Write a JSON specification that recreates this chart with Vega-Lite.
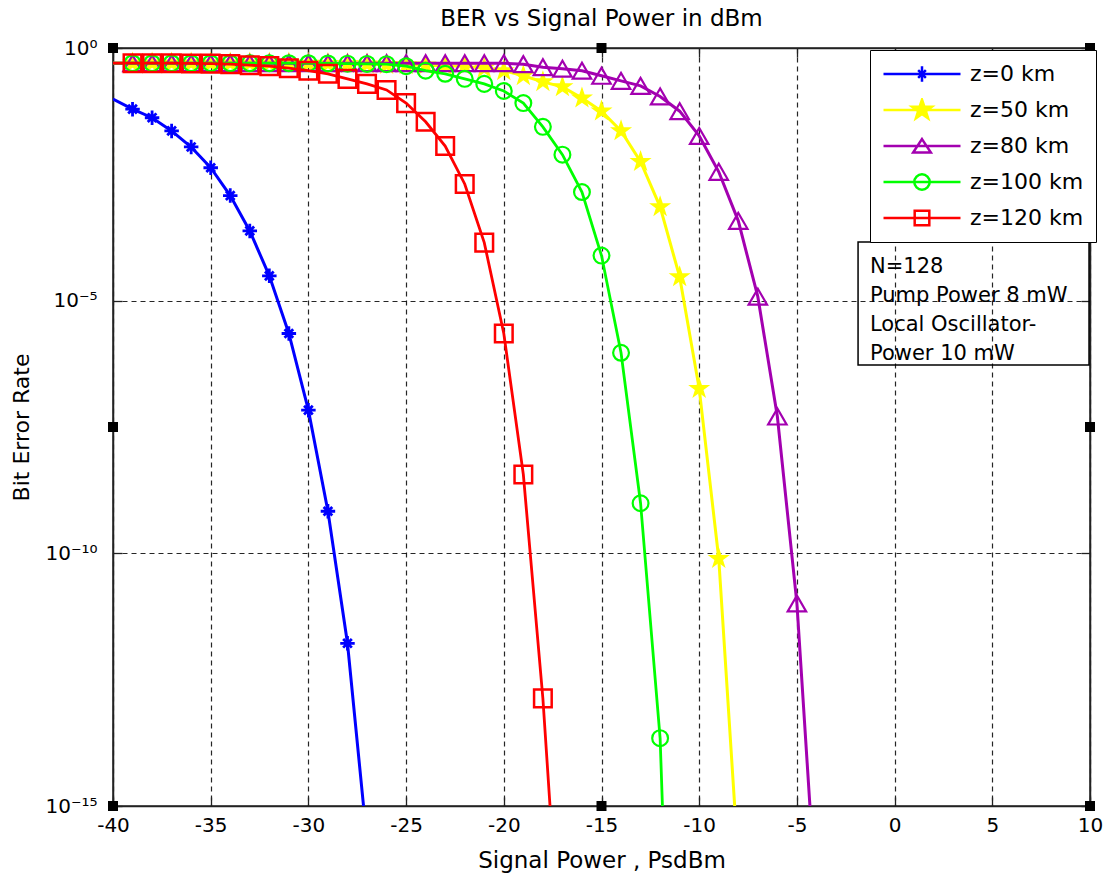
{
  "$schema": "https://vega.github.io/schema/vega-lite/v6.json",
  "width": 977,
  "height": 758,
  "autosize": {"type": "none"},
  "padding": {"left": 113, "top": 48, "right": 21, "bottom": 73},
  "background": "white",
  "config": {"view": {"stroke": "#222", "strokeWidth": 1.5}, "font": "DejaVu Sans"},
  "title": {"text": "BER vs Signal Power in dBm", "font": "DejaVu Sans", "fontSize": 23, "fontWeight": "normal", "color": "#000", "offset": 7, "anchor": "middle"},
  "datasets": {
    "ber": [
      {"p": -40, "ber": 0.098, "series": "z=0 km"},
      {"p": -39, "ber": 0.0617, "series": "z=0 km"},
      {"p": -38, "ber": 0.0417, "series": "z=0 km"},
      {"p": -37, "ber": 0.0229, "series": "z=0 km"},
      {"p": -36, "ber": 0.011, "series": "z=0 km"},
      {"p": -35, "ber": 0.00427, "series": "z=0 km"},
      {"p": -34, "ber": 0.0012, "series": "z=0 km"},
      {"p": -33, "ber": 2.4e-4, "series": "z=0 km"},
      {"p": -32, "ber": 3.1e-5, "series": "z=0 km"},
      {"p": -31, "ber": 2.24e-6, "series": "z=0 km"},
      {"p": -30, "ber": 6.8e-8, "series": "z=0 km"},
      {"p": -29, "ber": 6.8e-10, "series": "z=0 km"},
      {"p": -28, "ber": 1.66e-12, "series": "z=0 km"},
      {"p": -27, "ber": 2e-16, "series": "z=0 km"},

      {"p": -40, "ber": 0.5, "series": "z=50 km"},
      {"p": -39, "ber": 0.5, "series": "z=50 km"},
      {"p": -38, "ber": 0.5, "series": "z=50 km"},
      {"p": -37, "ber": 0.5, "series": "z=50 km"},
      {"p": -36, "ber": 0.5, "series": "z=50 km"},
      {"p": -35, "ber": 0.5, "series": "z=50 km"},
      {"p": -34, "ber": 0.5, "series": "z=50 km"},
      {"p": -33, "ber": 0.5, "series": "z=50 km"},
      {"p": -32, "ber": 0.5, "series": "z=50 km"},
      {"p": -31, "ber": 0.5, "series": "z=50 km"},
      {"p": -30, "ber": 0.495, "series": "z=50 km"},
      {"p": -29, "ber": 0.49, "series": "z=50 km"},
      {"p": -28, "ber": 0.484, "series": "z=50 km"},
      {"p": -27, "ber": 0.479, "series": "z=50 km"},
      {"p": -26, "ber": 0.468, "series": "z=50 km"},
      {"p": -25, "ber": 0.462, "series": "z=50 km"},
      {"p": -24, "ber": 0.457, "series": "z=50 km"},
      {"p": -23, "ber": 0.447, "series": "z=50 km"},
      {"p": -22, "ber": 0.437, "series": "z=50 km"},
      {"p": -21, "ber": 0.398, "series": "z=50 km"},
      {"p": -20, "ber": 0.355, "series": "z=50 km"},
      {"p": -19, "ber": 0.282, "series": "z=50 km"},
      {"p": -18, "ber": 0.214, "series": "z=50 km"},
      {"p": -17, "ber": 0.17, "series": "z=50 km"},
      {"p": -16, "ber": 0.102, "series": "z=50 km"},
      {"p": -15, "ber": 0.0562, "series": "z=50 km"},
      {"p": -14, "ber": 0.0229, "series": "z=50 km"},
      {"p": -13, "ber": 0.00562, "series": "z=50 km"},
      {"p": -12, "ber": 7.2e-4, "series": "z=50 km"},
      {"p": -11, "ber": 2.95e-5, "series": "z=50 km"},
      {"p": -10, "ber": 1.82e-7, "series": "z=50 km"},
      {"p": -9, "ber": 7.9e-11, "series": "z=50 km"},
      {"p": -8, "ber": 7.9e-17, "series": "z=50 km"},

      {"p": -40, "ber": 0.5, "series": "z=80 km"},
      {"p": -39, "ber": 0.5, "series": "z=80 km"},
      {"p": -38, "ber": 0.5, "series": "z=80 km"},
      {"p": -37, "ber": 0.5, "series": "z=80 km"},
      {"p": -36, "ber": 0.5, "series": "z=80 km"},
      {"p": -35, "ber": 0.5, "series": "z=80 km"},
      {"p": -34, "ber": 0.5, "series": "z=80 km"},
      {"p": -33, "ber": 0.5, "series": "z=80 km"},
      {"p": -32, "ber": 0.5, "series": "z=80 km"},
      {"p": -31, "ber": 0.5, "series": "z=80 km"},
      {"p": -30, "ber": 0.5, "series": "z=80 km"},
      {"p": -29, "ber": 0.5, "series": "z=80 km"},
      {"p": -28, "ber": 0.5, "series": "z=80 km"},
      {"p": -27, "ber": 0.5, "series": "z=80 km"},
      {"p": -26, "ber": 0.5, "series": "z=80 km"},
      {"p": -25, "ber": 0.5, "series": "z=80 km"},
      {"p": -24, "ber": 0.5, "series": "z=80 km"},
      {"p": -23, "ber": 0.5, "series": "z=80 km"},
      {"p": -22, "ber": 0.5, "series": "z=80 km"},
      {"p": -21, "ber": 0.5, "series": "z=80 km"},
      {"p": -20, "ber": 0.5, "series": "z=80 km"},
      {"p": -19, "ber": 0.479, "series": "z=80 km"},
      {"p": -18, "ber": 0.417, "series": "z=80 km"},
      {"p": -17, "ber": 0.389, "series": "z=80 km"},
      {"p": -16, "ber": 0.355, "series": "z=80 km"},
      {"p": -15, "ber": 0.282, "series": "z=80 km"},
      {"p": -14, "ber": 0.224, "series": "z=80 km"},
      {"p": -13, "ber": 0.178, "series": "z=80 km"},
      {"p": -12, "ber": 0.11, "series": "z=80 km"},
      {"p": -11, "ber": 0.0562, "series": "z=80 km"},
      {"p": -10, "ber": 0.0182, "series": "z=80 km"},
      {"p": -9, "ber": 0.00355, "series": "z=80 km"},
      {"p": -8, "ber": 3.8e-4, "series": "z=80 km"},
      {"p": -7, "ber": 1.2e-5, "series": "z=80 km"},
      {"p": -6, "ber": 5.1e-8, "series": "z=80 km"},
      {"p": -5, "ber": 1.02e-11, "series": "z=80 km"},
      {"p": -4, "ber": 1e-17, "series": "z=80 km"},

      {"p": -40, "ber": 0.5, "series": "z=100 km"},
      {"p": -39, "ber": 0.5, "series": "z=100 km"},
      {"p": -38, "ber": 0.5, "series": "z=100 km"},
      {"p": -37, "ber": 0.5, "series": "z=100 km"},
      {"p": -36, "ber": 0.5, "series": "z=100 km"},
      {"p": -35, "ber": 0.5, "series": "z=100 km"},
      {"p": -34, "ber": 0.5, "series": "z=100 km"},
      {"p": -33, "ber": 0.5, "series": "z=100 km"},
      {"p": -32, "ber": 0.5, "series": "z=100 km"},
      {"p": -31, "ber": 0.5, "series": "z=100 km"},
      {"p": -30, "ber": 0.5, "series": "z=100 km"},
      {"p": -29, "ber": 0.495, "series": "z=100 km"},
      {"p": -28, "ber": 0.49, "series": "z=100 km"},
      {"p": -27, "ber": 0.484, "series": "z=100 km"},
      {"p": -26, "ber": 0.479, "series": "z=100 km"},
      {"p": -25, "ber": 0.437, "series": "z=100 km"},
      {"p": -24, "ber": 0.355, "series": "z=100 km"},
      {"p": -23, "ber": 0.309, "series": "z=100 km"},
      {"p": -22, "ber": 0.245, "series": "z=100 km"},
      {"p": -21, "ber": 0.195, "series": "z=100 km"},
      {"p": -20, "ber": 0.141, "series": "z=100 km"},
      {"p": -19, "ber": 0.0813, "series": "z=100 km"},
      {"p": -18, "ber": 0.0275, "series": "z=100 km"},
      {"p": -17, "ber": 0.00776, "series": "z=100 km"},
      {"p": -16, "ber": 0.00141, "series": "z=100 km"},
      {"p": -15, "ber": 7.8e-5, "series": "z=100 km"},
      {"p": -14, "ber": 9.3e-7, "series": "z=100 km"},
      {"p": -13, "ber": 9.8e-10, "series": "z=100 km"},
      {"p": -12, "ber": 2.2e-14, "series": "z=100 km"},
      {"p": -11, "ber": 1e-25, "series": "z=100 km"},

      {"p": -40, "ber": 0.5, "series": "z=120 km"},
      {"p": -39, "ber": 0.5, "series": "z=120 km"},
      {"p": -38, "ber": 0.5, "series": "z=120 km"},
      {"p": -37, "ber": 0.5, "series": "z=120 km"},
      {"p": -36, "ber": 0.495, "series": "z=120 km"},
      {"p": -35, "ber": 0.49, "series": "z=120 km"},
      {"p": -34, "ber": 0.479, "series": "z=120 km"},
      {"p": -33, "ber": 0.457, "series": "z=120 km"},
      {"p": -32, "ber": 0.437, "series": "z=120 km"},
      {"p": -31, "ber": 0.398, "series": "z=120 km"},
      {"p": -30, "ber": 0.355, "series": "z=120 km"},
      {"p": -29, "ber": 0.309, "series": "z=120 km"},
      {"p": -28, "ber": 0.245, "series": "z=120 km"},
      {"p": -27, "ber": 0.195, "series": "z=120 km"},
      {"p": -26, "ber": 0.148, "series": "z=120 km"},
      {"p": -25, "ber": 0.0813, "series": "z=120 km"},
      {"p": -24, "ber": 0.0347, "series": "z=120 km"},
      {"p": -23, "ber": 0.0115, "series": "z=120 km"},
      {"p": -22, "ber": 0.00204, "series": "z=120 km"},
      {"p": -21, "ber": 1.41e-4, "series": "z=120 km"},
      {"p": -20, "ber": 2.24e-6, "series": "z=120 km"},
      {"p": -19, "ber": 3.63e-9, "series": "z=120 km"},
      {"p": -18, "ber": 1.35e-13, "series": "z=120 km"},
      {"p": -17, "ber": 2e-19, "series": "z=120 km"}
    ],
    "handles": [
      {"hx": -40, "hy": 1}, {"hx": -15, "hy": 1}, {"hx": 10, "hy": 1},
      {"hx": -40, "hy": 3.16e-8}, {"hx": 10, "hy": 3.16e-8},
      {"hx": -40, "hy": 1e-15}, {"hx": -15, "hy": 1e-15}, {"hx": 10, "hy": 1e-15}
    ]
  },
  "resolve": {"axis": {"x": "independent", "y": "independent"}},
  "layer": [
    {
      "layer": [
        {
          "data": {"name": "ber"},
          "transform": [{"filter": "datum.series == 'z=0 km'"}],
          "layer": [
            {
              "mark": {"type": "line", "clip": true, "strokeWidth": 3, "color": "#0000ff"},
              "encoding": {
                "x": {"field": "p", "type": "quantitative", "scale": {"domain": [-40, 10], "nice": false, "zero": false},
                  "axis": {"orient": "bottom", "values": [-40, -35, -30, -25, -20, -15, -10, -5, 0, 5, 10], "labelExpr": "datum.value + ''", "grid": true, "gridColor": "#000", "gridDash": [5, 4], "gridOpacity": 0.85, "gridWidth": 1.2, "tickSize": -9, "tickColor": "#222", "tickWidth": 1.3, "domainColor": "#222", "domainWidth": 1.5, "labelFont": "DejaVu Sans", "labelFontSize": 20, "labelColor": "#000", "labelPadding": 18, "labelFlush": false, "labelOverlap": false, "title": "Signal Power , PsdBm", "titleFont": "DejaVu Sans", "titleFontSize": 23, "titleFontWeight": "normal", "titleColor": "#000", "titlePadding": 14}},
                "y": {"field": "ber", "type": "quantitative", "scale": {"type": "log", "domain": [1e-15, 1], "nice": false},
                  "axis": {"orient": "left", "values": [1, 1e-5, 1e-10, 1e-15], "labelExpr": "datum.value > 0.5 ? '10⁰' : datum.value > 1e-7 ? '10⁻⁵' : datum.value > 1e-12 ? '10⁻¹⁰' : '10⁻¹⁵'", "grid": true, "gridColor": "#000", "gridDash": [5, 4], "gridOpacity": 0.85, "gridWidth": 1.2, "tickSize": -9, "tickColor": "#222", "tickWidth": 1.3, "domainColor": "#222", "domainWidth": 1.5, "labelFont": "DejaVu Sans", "labelFontSize": 20, "labelColor": "#000", "labelPadding": 25, "labelFlush": false, "labelOverlap": false, "title": "Bit Error Rate", "titleFont": "DejaVu Sans", "titleFontSize": 22, "titleFontWeight": "normal", "titleColor": "#000", "titlePadding": 11}}
              }
            },
            {
              "transform": [{"filter": "datum.p > -40"}],
              "mark": {"type": "point", "clip": true, "shape": "M-1,0H1M0,-1V1M-0.6,-0.6L0.6,0.6M-0.6,0.6L0.6,-0.6", "size": 210, "filled": false, "color": "#0000ff", "strokeWidth": 2.8, "opacity": 1},
              "encoding": {"x": {"field": "p", "type": "quantitative"}, "y": {"field": "ber", "type": "quantitative"}}
            }
          ]
        },
        {
          "data": {"name": "ber"},
          "transform": [{"filter": "datum.series == 'z=50 km'"}],
          "layer": [
            {
              "mark": {"type": "line", "clip": true, "strokeWidth": 3, "color": "#ffff00"},
              "encoding": {"x": {"field": "p", "type": "quantitative"}, "y": {"field": "ber", "type": "quantitative"}}
            },
            {
              "transform": [{"filter": "datum.p > -40"}],
              "mark": {"type": "point", "clip": true, "shape": "M0,-1L0.23,-0.31L0.95,-0.31L0.37,0.12L0.59,0.81L0,0.39L-0.59,0.81L-0.37,0.12L-0.95,-0.31L-0.23,-0.31Z", "size": 540, "filled": true, "color": "#ffff00", "strokeWidth": 1, "opacity": 1},
              "encoding": {"x": {"field": "p", "type": "quantitative"}, "y": {"field": "ber", "type": "quantitative"}}
            }
          ]
        },
        {
          "data": {"name": "ber"},
          "transform": [{"filter": "datum.series == 'z=80 km'"}],
          "layer": [
            {
              "mark": {"type": "line", "clip": true, "strokeWidth": 3, "color": "#a300b0"},
              "encoding": {"x": {"field": "p", "type": "quantitative"}, "y": {"field": "ber", "type": "quantitative"}}
            },
            {
              "transform": [{"filter": "datum.p > -40"}],
              "mark": {"type": "point", "clip": true, "shape": "triangle-up", "size": 340, "filled": false, "color": "#a300b0", "strokeWidth": 2.2, "opacity": 1},
              "encoding": {"x": {"field": "p", "type": "quantitative"}, "y": {"field": "ber", "type": "quantitative"}}
            }
          ]
        },
        {
          "data": {"name": "ber"},
          "transform": [{"filter": "datum.series == 'z=100 km'"}],
          "layer": [
            {
              "mark": {"type": "line", "clip": true, "strokeWidth": 2.8, "color": "#00ff00"},
              "encoding": {"x": {"field": "p", "type": "quantitative"}, "y": {"field": "ber", "type": "quantitative"}}
            },
            {
              "transform": [{"filter": "datum.p > -40"}],
              "mark": {"type": "point", "clip": true, "shape": "circle", "size": 250, "filled": false, "color": "#00ff00", "strokeWidth": 2.2, "opacity": 1},
              "encoding": {"x": {"field": "p", "type": "quantitative"}, "y": {"field": "ber", "type": "quantitative"}}
            }
          ]
        },
        {
          "data": {"name": "ber"},
          "transform": [{"filter": "datum.series == 'z=120 km'"}],
          "layer": [
            {
              "mark": {"type": "line", "clip": true, "strokeWidth": 2.8, "color": "#ff0000"},
              "encoding": {"x": {"field": "p", "type": "quantitative"}, "y": {"field": "ber", "type": "quantitative"}}
            },
            {
              "transform": [{"filter": "datum.p > -40"}],
              "mark": {"type": "point", "clip": true, "shape": "square", "size": 310, "filled": false, "color": "#ff0000", "strokeWidth": 2.5, "opacity": 1},
              "encoding": {"x": {"field": "p", "type": "quantitative"}, "y": {"field": "ber", "type": "quantitative"}}
            }
          ]
        },
        {
          "data": {"values": [{}]},
          "mark": {"type": "rect", "fill": "white", "fillOpacity": 0, "stroke": "#000", "strokeWidth": 1.5},
          "encoding": {
            "x": {"datum": -1.87, "type": "quantitative"},
            "x2": {"datum": 9.95},
            "y": {"datum": 1.45e-4, "type": "quantitative"},
            "y2": {"datum": 5.33e-7}
          }
        },
        {
          "data": {"values": [{}]},
          "mark": {"type": "text", "text": ["N=128", "Pump Power 8 mW", "Local Oscillator-", "Power 10 mW"], "align": "left", "baseline": "top", "font": "DejaVu Sans", "fontSize": 21, "lineHeight": 28.7, "color": "#000"},
          "encoding": {
            "x": {"datum": -1.26, "type": "quantitative"},
            "y": {"datum": 7.5e-5, "type": "quantitative"}
          }
        },
        {
          "data": {"name": "ber"},
          "transform": [{"filter": "datum.ber < 1e-15"}],
          "mark": {"type": "point", "clip": true, "filled": false, "strokeWidth": 2.5, "size": 5929, "opacity": 1},
          "encoding": {
            "x": {"field": "p", "type": "quantitative"},
            "y": {"field": "ber", "type": "quantitative"},
            "stroke": {"field": "series", "type": "nominal", "scale": {"domain": ["z=0 km", "z=50 km", "z=80 km", "z=100 km", "z=120 km"], "range": ["#0000ff", "#ffff00", "#a300b0", "#00ff00", "#ff0000"]},
              "legend": {"title": null, "orient": "none", "legendX": 757, "legendY": 2, "padding": 12, "clipHeight": 24, "rowPadding": 12, "symbolSize": 5929, "symbolStrokeWidth": 2.5, "labelFont": "DejaVu Sans", "labelFontSize": 22, "labelColor": "#000", "labelOffset": 8, "labelLimit": 300, "strokeColor": "#000", "fillColor": "white"}},
            "fill": {"field": "series", "type": "nominal", "scale": {"domain": ["z=0 km", "z=50 km", "z=80 km", "z=100 km", "z=120 km"], "range": ["#0000ff", "#ffff00", "transparent", "transparent", "transparent"]},
              "legend": {"title": null, "orient": "none", "legendX": 757, "legendY": 2, "padding": 12, "clipHeight": 24, "rowPadding": 12, "symbolSize": 5929, "symbolStrokeWidth": 2.5, "labelFont": "DejaVu Sans", "labelFontSize": 22, "labelColor": "#000", "labelOffset": 8, "labelLimit": 300, "strokeColor": "#000", "fillColor": "white"}},
            "shape": {"field": "series", "type": "nominal", "scale": {"domain": ["z=0 km", "z=50 km", "z=80 km", "z=100 km", "z=120 km"], "range": [
                "M-1,0H1M0,-0.2V0.2M-0.1,-0.1L0.1,0.1M-0.1,0.1L0.1,-0.1M-0.14,0H0.14",
                "M0,-0.27L0.062,-0.085L0.257,-0.083L0.1,0.032L0.159,0.218L0,0.105L-0.159,0.218L-0.1,0.032L-0.257,-0.083L-0.062,-0.085ZM-1,0H1",
                "M-1,0H1M0,-0.18L0.23,0.17L-0.23,0.17Z",
                "M-1,0H1M0.2,0A0.2,0.2,0,1,1,-0.2,0A0.2,0.2,0,1,1,0.2,0Z",
                "M-1,0H1M-0.19,-0.19H0.19V0.19H-0.19Z"
              ]},
              "legend": {"title": null, "orient": "none", "legendX": 757, "legendY": 2, "padding": 12, "clipHeight": 24, "rowPadding": 12, "symbolSize": 5929, "symbolStrokeWidth": 2.5, "labelFont": "DejaVu Sans", "labelFontSize": 22, "labelColor": "#000", "labelOffset": 8, "labelLimit": 300, "strokeColor": "#000", "fillColor": "white"}}
          }
        }
      ]
    },
    {
      "data": {"name": "handles"},
      "mark": {"type": "point", "shape": "square", "size": 100, "filled": true, "color": "#000", "opacity": 1},
      "encoding": {
        "x": {"field": "hx", "type": "quantitative",
          "axis": {"orient": "top", "values": [-40, -35, -30, -25, -20, -15, -10, -5, 0, 5, 10], "labels": false, "grid": false, "tickSize": -9, "tickColor": "#222", "tickWidth": 1.3, "domainColor": "#222", "domainWidth": 1.5, "title": null}},
        "y": {"field": "hy", "type": "quantitative",
          "axis": {"orient": "right", "values": [1, 1e-5, 1e-10, 1e-15], "labels": false, "grid": false, "tickSize": -9, "tickColor": "#222", "tickWidth": 1.3, "domainColor": "#222", "domainWidth": 1.5, "title": null}}
      }
    }
  ]
}
